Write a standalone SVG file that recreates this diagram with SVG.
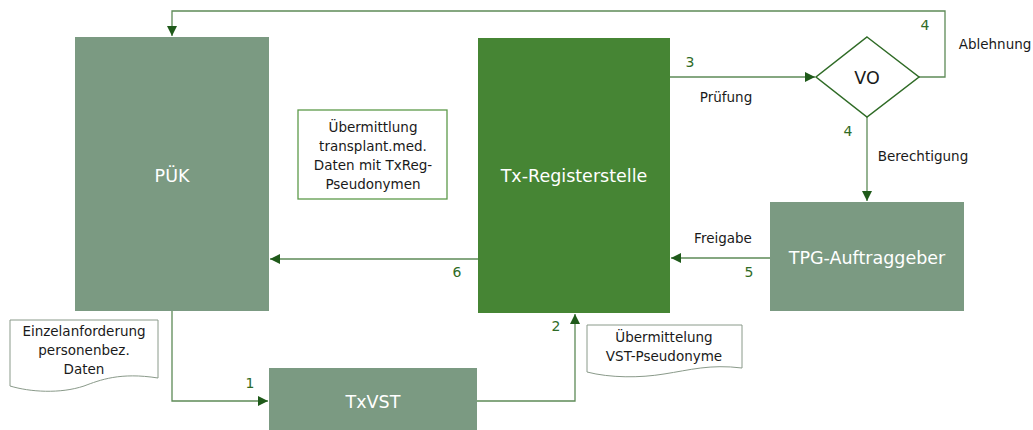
<svg xmlns="http://www.w3.org/2000/svg" width="1033" height="430" viewBox="0 0 1033 430">
<defs>
<style>
.node{fill:#7b9a82}
.main{fill:#468534}
.lbl{font-family:"DejaVu Sans",Verdana,sans-serif;font-size:17.5px;fill:#ffffff;text-anchor:middle}
.txt{font-family:"DejaVu Sans",Verdana,sans-serif;font-size:13.5px;fill:#1a1a1a;text-anchor:middle}
.num{font-family:"DejaVu Sans",Verdana,sans-serif;font-size:14px;fill:#2f6b26;text-anchor:middle}
.con{fill:none;stroke:#5d8a57;stroke-width:1.3}
.doc{fill:#ffffff;stroke:#8a9a8a;stroke-width:1}
</style>
<marker id="arr" viewBox="0 0 10 10" refX="10" refY="5" markerWidth="10" markerHeight="10" markerUnits="userSpaceOnUse" orient="auto">
<path d="M0,0 L10,5 L0,10 z" fill="#1f5a1a"/>
</marker>
</defs>
<rect width="1033" height="430" fill="#ffffff"/>
<g id="connectors">
<path class="con" d="M172,311 V401 H268" marker-end="url(#arr)"/>
<path class="con" d="M477,401 H575 V314" marker-end="url(#arr)"/>
<path class="con" d="M670,77 H815" marker-end="url(#arr)"/>
<path class="con" d="M919,77 H945 V11 H172 V36" marker-end="url(#arr)"/>
<path class="con" d="M867,117 V201" marker-end="url(#arr)"/>
<path class="con" d="M770,258 H671" marker-end="url(#arr)"/>
<path class="con" d="M478,259 H270" marker-end="url(#arr)"/>
<text class="num" x="250" y="388">1</text>
<text class="num" x="556" y="331">2</text>
<text class="num" x="690" y="67">3</text>
<text class="txt" x="726" y="102">Prüfung</text>
<text class="num" x="925" y="30">4</text>
<text class="txt" x="995" y="49">Ablehnung</text>
<text class="num" x="848" y="136">4</text>
<text class="txt" x="923" y="161">Berechtigung</text>
<text class="txt" x="723" y="243">Freigabe</text>
<text class="num" x="749" y="277">5</text>
<text class="num" x="457" y="277">6</text>
</g>
<g id="puek">
<rect class="node" x="75" y="37" width="194" height="274"/>
<text class="lbl" x="172" y="182">PÜK</text>
</g>
<g id="txreg">
<rect class="main" x="478" y="38" width="192" height="275"/>
<text class="lbl" x="574" y="182">Tx-Registerstelle</text>
</g>
<g id="txvst">
<rect class="node" x="269" y="368" width="208" height="62"/>
<text class="lbl" x="373" y="408">TxVST</text>
</g>
<g id="tpg">
<rect class="node" x="770" y="202" width="194" height="109"/>
<text class="lbl" x="867" y="264">TPG-Auftraggeber</text>
</g>
<g id="vo">
<polygon points="867,37 919,77 867,117 816,77" fill="#ffffff" stroke="#2f6b26" stroke-width="1.5"/>
<text class="lbl" x="867" y="84" style="fill:#1a1a1a">VO</text>
</g>
<g id="note">
<rect x="298" y="110" width="149" height="89" fill="#ffffff" stroke="#5d9a4a" stroke-width="1.3"/>
<text class="txt" x="373" y="132">Übermittlung</text>
<text class="txt" x="373" y="151">transplant.med.</text>
<text class="txt" x="373" y="170">Daten mit TxReg-</text>
<text class="txt" x="373" y="189">Pseudonymen</text>
</g>
<g id="doc1">
<path class="doc" d="M10,320 H158 V378 C120,372 100,380 84,386 C60,394 30,392 10,386 Z"/>
<text class="txt" x="84" y="336">Einzelanforderung</text>
<text class="txt" x="84" y="355">personenbez.</text>
<text class="txt" x="84" y="374">Daten</text>
</g>
<g id="doc2">
<path class="doc" d="M587,325 H742 V368 C710,364 690,370 664,374 C640,378 610,378 587,372 Z"/>
<text class="txt" x="664" y="342">Übermittelung</text>
<text class="txt" x="664" y="361">VST-Pseudonyme</text>
</g>
</svg>
